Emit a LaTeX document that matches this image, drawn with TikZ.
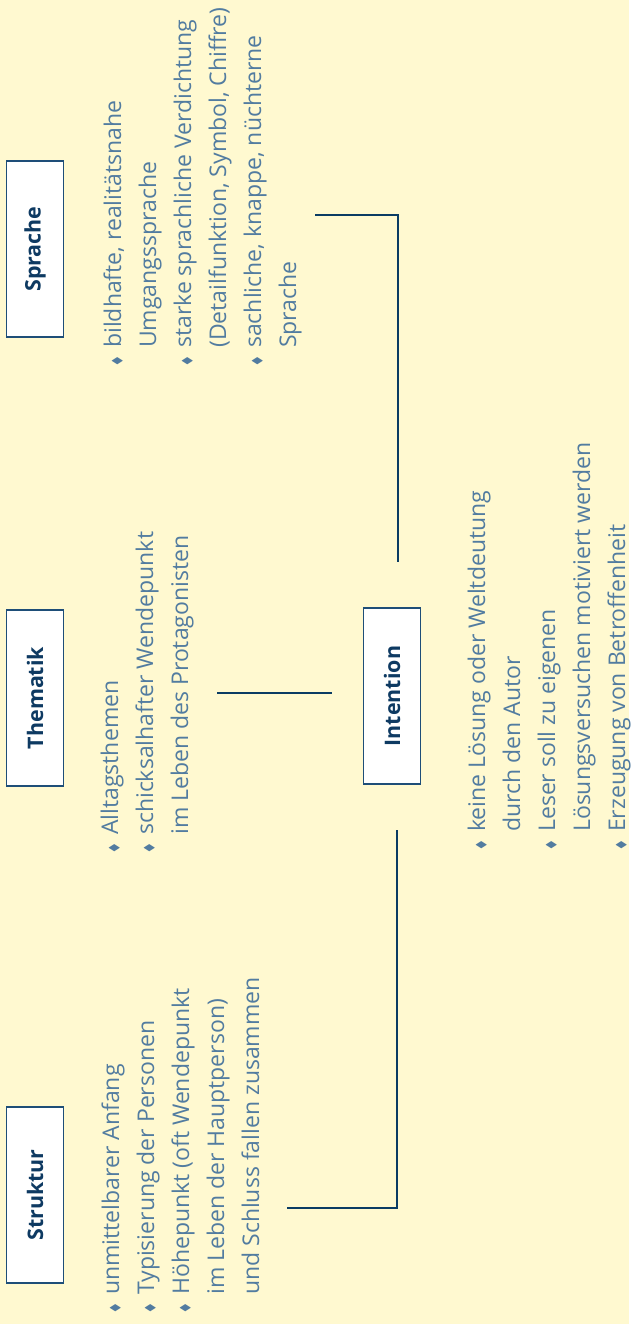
\documentclass[tikz,border=0pt]{standalone}
\usepackage{amssymb}
\usepackage{fontspec}
\setmainfont{Open Sans}
\definecolor{bggelb}{RGB}{255,249,208}
\definecolor{rahmen}{RGB}{30,78,120}
\definecolor{titel}{RGB}{14,58,98}
\definecolor{linie}{RGB}{10,60,99}
\definecolor{punkt}{RGB}{82,124,160}
\newcommand{\bul}{\makebox[19pt][l]{\hspace{1pt}\fontsize{13}{13}\selectfont$\blacklozenge$}}
\newcommand{\ein}{\hspace*{19pt}}

\begin{document}
\begin{tikzpicture}
  [x=1pt,y=-1pt,
   kasten/.style={draw=rahmen,line width=1.4pt,fill=white,rotate=90,
     minimum width=176pt,minimum height=57pt,inner sep=0pt,
     text=titel,font=\fontsize{21.4}{21.4}\selectfont\bfseries},
   liste/.style={rotate=90,anchor=base west,inner sep=0pt,align=left,
     text=punkt,font=\fontsize{23}{35}\selectfont},
   verb/.style={draw=linie,line width=2.2pt}]
  \fill[bggelb] (0,0) rectangle (629,1324);

  % Kaesten
  \node[kasten] (struktur) at (35,1195) {Struktur};
  \node[kasten] (thematik) at (35,698) {Thematik};
  \node[kasten] (sprache) at (35,249) {Sprache};
  \node[kasten] (intention) at (392,696) {Intention};

  % Listen (Anker = Grundlinie der letzten Zeile)
  \node[liste] (strukturliste) at (259,1314) {\bul unmittelbarer Anfang\\
    \bul Typisierung der Personen\\
    \bul Höhepunkt (oft Wendepunkt\\
    \ein im Leben der Hauptperson)\\
    \ein und Schluss fallen zusammen};
  \node[liste] (thematikliste) at (188,854) {\bul Alltagsthemen\\
    \bul schicksalhafter Wendepunkt\\
    \ein im Leben des Protagonisten};
  \node[liste] (sprachliste) at (296,367) {\bul bildhafte, realitätsnahe\\
    \ein Umgangssprache\\
    \bul starke sprachliche Verdichtung\\
    \ein (Detailfunktion, Symbol, Chiffre)\\
    \bul sachliche, knappe, nüchterne\\
    \ein Sprache};
  \node[liste] (intentionliste) at (625,851) {\bul keine Lösung oder Weltdeutung\\
    \ein durch den Autor\\
    \bul Leser soll zu eigenen\\
    \ein Lösungsversuchen motiviert werden\\
    \bul Erzeugung von Betroffenheit};

  % Verbindungen
  \coordinate (s1) at (287,1208);
  \coordinate (s2) at (397,830);
  \coordinate (t1) at (217,693);
  \coordinate (t2) at (332,693);
  \coordinate (p1) at (315,215);
  \coordinate (p2) at (398,562);
  \draw[verb] (s1) -| (s2);
  \draw[verb] (t1) -- (t2);
  \draw[verb] (p1) -| (p2);
\end{tikzpicture}
\end{document}
